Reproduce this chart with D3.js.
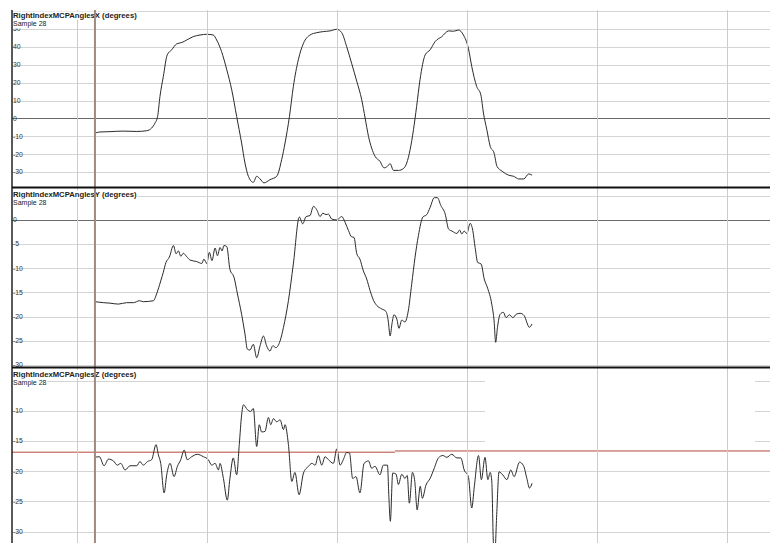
<!DOCTYPE html>
<html><head><meta charset="utf-8">
<script src="https://cdn.jsdelivr.net/npm/d3@7"></script>
<style>body{margin:0;background:#fff}svg{display:block}text{font-family:Arial,"Liberation Sans",sans-serif}</style>
</head><body><svg id="c" width="770" height="543"></svg>
<script>
// ---------- data ----------
const titles = ["RightIndexMCPAnglesX (degrees)", "RightIndexMCPAnglesY (degrees)", "RightIndexMCPAnglesZ (degrees)"];
const sampleLabel = "Sample 28";
const gridX = [60, 50, 40, 30, 20, 10, 0, -10, -20, -30];
const gridY = [5, 0, -5, -10, -15, -20, -25, -30];
const gridZ = [-5, -10, -15, -20, -25, -30];
const labelsX = [50, 40, 30, 20, 10, 0, -10, -20, -30];
const labelsY = [0, -5, -10, -15, -20, -25, -30];
const labelsZ = [-10, -15, -20, -25, -30];
const timeTicks = [0, 50, 100, 150, 200, 250];
const cursorT = 6.9;
const thresholdZ = [[-25, 122.3, -16.85], [122.3, 266.5, -16.65]];

const seriesX = [[6.9,-8.2],[8.8,-7.6],[12.7,-7.4],[17.8,-7.1],[23.0,-7.3],[26.8,-6.9],[28.7,-5.4],[30.0,-2.6],[31.0,1.1],[31.9,12.3],[33.2,23.5],[34.7,35.6],[36.4,38.4],[38.3,41.7],[40.3,42.5],[42.2,43.9],[44.7,45.8],[47.3,46.7],[49.9,47.1],[52.4,46.7],[53.7,43.9],[55.6,37.4],[57.6,27.2],[59.5,16.0],[61.4,1.1],[63.3,-13.8],[64.6,-25],[65.9,-32.4],[67.8,-35.8],[69.1,-32.4],[70.4,-33.9],[71.9,-36.1],[74.2,-34.3],[76.8,-32.4],[78.7,-23.1],[80.0,-13.8],[81.7,1.1],[83.2,17.9],[85.1,32.8],[87.1,42.1],[89.6,46.7],[92.2,48.0],[94.7,48.6],[97.3,49.0],[99.9,49.9],[101.8,48.0],[103.7,40.2],[105.6,30.9],[107.6,20.7],[109.5,10.4],[110.8,0.2],[112.1,-10.1],[113.3,-16.6],[114.6,-21.2],[116.5,-24.0],[118.1,-27.7],[119.4,-26.8],[120.4,-25.3],[121.7,-29.1],[123.6,-29.1],[125.5,-28.1],[126.8,-25],[128.1,-17.5],[129.4,-6.3],[130.6,6.7],[131.9,21.6],[133.9,35.6],[135.8,38.4],[137.7,43.0],[140.3,45.8],[142.9,49.0],[144.8,48.8],[146.7,49.5],[148.6,46.7],[150.5,39.3],[151.8,29.1],[153.7,17.9],[155.3,13.2],[156.3,3.0],[157.6,-6.3],[158.9,-15.6],[160.4,-19.4],[161.5,-26.8],[163.5,-29.6],[166,-31.8],[167.9,-32.4],[169.9,-33.9],[171.8,-33.9],[173.7,-31.1],[175,-31.8]];

const seriesY = [[6.9,-16.9],[10.1,-17.1],[12.7,-17.2],[15.9,-17.4],[19.1,-17.1],[21.7,-17.1],[24.0,-16.7],[25.5,-16.9],[29.4,-16.7],[30.6,-15.3],[32.2,-12.6],[33.2,-10.8],[34.2,-8.8],[35.5,-7.7],[37.1,-5.3],[38.1,-7.0],[39.0,-6.4],[39.9,-7.5],[40.9,-6.9],[42.2,-7.6],[43.5,-8.3],[46.0,-8.6],[48.0,-9.0],[48.8,-8.1],[49.9,-9.0],[50.9,-6.7],[51.9,-8.4],[53.1,-5.8],[54.0,-7.4],[55.0,-5.7],[55.8,-6.4],[56.5,-5.3],[57.6,-5.5],[58.8,-10.2],[60.4,-11.9],[61.7,-15.3],[63.3,-19.5],[64.6,-23.6],[65.5,-26.7],[66.5,-26.9],[67.8,-25.7],[69.1,-28.5],[70.4,-26.0],[71.7,-24.0],[72.9,-26.0],[74.2,-27.1],[75.3,-26.0],[76.5,-26.4],[78.1,-25.0],[79.4,-22.2],[81.3,-16.7],[83.2,-9.1],[85.5,0.6],[86.8,-0.8],[88.1,0.7],[89.6,0.9],[90.9,2.8],[92.2,2.1],[93.5,0.7],[94.5,1.4],[95.8,1.1],[96.7,1.2],[97.9,0.2],[99.9,0],[101.8,0.7],[103.1,-0.5],[104.4,-2.2],[105.6,-3.5],[106.5,-3.6],[107.6,-7.0],[108.8,-8.1],[110.1,-10.5],[111.4,-12.2],[112.7,-14.6],[114.0,-16.6],[115.3,-17.7],[117.2,-18.4],[118.8,-18.9],[119.7,-20.9],[120.4,-24.0],[121.2,-21.2],[121.9,-19.6],[123.0,-20.5],[123.8,-22.4],[124.9,-20.7],[126.1,-21.1],[127.4,-18.8],[128.7,-13.3],[130.0,-7.7],[131.3,-3.2],[133.0,0.6],[134.5,1.1],[135.8,2.6],[137.4,4.6],[138.6,4.6],[139.9,3.0],[141.6,1.2],[142.9,-1.9],[144.2,-2.3],[146.1,-2.8],[147.1,-2.1],[148.0,-2.9],[148.9,-2.3],[149.9,-2.8],[151.2,-0.7],[152.2,-2.2],[153.1,-5.7],[154.1,-8.8],[155.4,-9.1],[156.6,-12.2],[157.9,-14.1],[159.5,-17.4],[160.4,-20.9],[161.0,-25.3],[161.7,-22.2],[162.7,-19.5],[164.0,-19.1],[165.0,-20.2],[166.3,-19.6],[167.6,-20.2],[168.9,-19.5],[170.4,-19.3],[172.0,-19.8],[173.0,-21.2],[173.9,-22.2],[175.0,-21.5]];

const seriesZ = [[6.9,-17.7],[8.6,-17.6],[10.4,-19.1],[12.1,-18.0],[14.0,-18.3],[15.5,-19.0],[16.8,-18.7],[18.5,-19.8],[20.4,-19.1],[23.0,-19.1],[24.2,-18.4],[25.5,-19.0],[27.1,-18.4],[28.7,-18.1],[30.4,-15.6],[31.3,-17.3],[32.2,-18.7],[33.5,-23.6],[34.5,-20.6],[35.8,-18.7],[37.3,-20.9],[38.6,-19.2],[39.9,-18.1],[41.2,-16.5],[42.4,-18.1],[44.1,-17.6],[46.3,-17.2],[48.6,-17.6],[50.5,-18.1],[51.8,-19.0],[53.1,-18.7],[54.4,-19.8],[55.0,-18.7],[56.3,-21.2],[57.8,-24.8],[58.8,-21.2],[60.1,-17.8],[61.4,-20.6],[62.4,-15.6],[63.3,-10.7],[64.0,-9.0],[65.5,-9.8],[66.8,-10.1],[67.8,-9.6],[69.1,-15.9],[70.1,-12.3],[71.0,-13.5],[72.3,-13.4],[73.6,-11.1],[74.5,-12.3],[75.5,-11.3],[76.8,-11.8],[78.1,-11.5],[79.4,-13.1],[80.0,-12.3],[81.3,-15.6],[82.6,-21.7],[83.8,-20.2],[85.4,-23.9],[87.1,-20.3],[89.0,-19.2],[90.3,-18.7],[91.6,-19.0],[92.8,-17.4],[94.1,-19.0],[95.4,-17.6],[96.7,-18.1],[98.6,-18.7],[99.9,-16.3],[101.2,-19.0],[102.4,-18.1],[103.7,-16.9],[104.8,-17.0],[106.0,-21.2],[107.3,-20.9],[108.8,-23.6],[110.4,-18.7],[112.1,-18.3],[113.3,-19.5],[114.6,-19.2],[116.5,-20.6],[117.8,-19.0],[119.4,-19.0],[119.9,-23.9],[120.5,-28.3],[121.4,-20.3],[122.7,-20.5],[123.6,-22.2],[124.9,-20.5],[126.1,-21.2],[127.0,-20.7],[127.8,-25.3],[129.0,-20.2],[129.9,-21.7],[130.8,-26.4],[132.0,-22.5],[132.8,-24.5],[134.2,-22.3],[135.8,-21.2],[137.3,-19.6],[139.0,-17.8],[140.7,-17.4],[142.2,-17.7],[144.1,-17.2],[146.1,-17.8],[147.6,-17.8],[148.9,-19.8],[150.5,-20.9],[151.8,-26.1],[152.8,-22.5],[154.4,-17.4],[155.5,-21.4],[156.9,-17.7],[158.0,-21.4],[158.9,-20.2],[159.5,-21.6],[160.1,-31.7],[160.6,-34.5],[161.4,-27.2],[162.3,-20.1],[163.7,-20.6],[165.3,-21.4],[166.8,-19.8],[168.1,-20.9],[170.2,-18.5],[171.7,-19.1],[173.0,-21.2],[174.0,-22.8],[175.0,-22.0]];

// ---------- layout ----------
const W = 770, H = 543, left = 12;
const svg = d3.select("#c");
const x = d3.scaleLinear().domain([-25, 266.5]).range([left, W]);

const panels = [
  {title: titles[0], grid: gridX, labels: labelsX, data: seriesX, domain: [-38.4, 60.7], top: 10, bottom: 187, zero: true, tb: 18, sb: 26},
  {title: titles[1], grid: gridY, labels: labelsY, data: seriesY, domain: [-30.4, 6.6], top: 188, bottom: 367, zero: true, tb: 197, sb: 204.5},
  {title: titles[2], grid: gridZ, labels: labelsZ, data: seriesZ, domain: [-31.9, -2.9], top: 368, bottom: 543, zero: false, tb: 376.5, sb: 384.5}
];

svg.append("rect").attr("width", W).attr("height", H).attr("fill", "#fff");
const defs = svg.append("defs");

panels.forEach((p, i) => {
  p.y = d3.scaleLinear().domain(p.domain).range([p.bottom, p.top]);
  defs.append("clipPath").attr("id", "clip" + i).append("rect")
    .attr("x", left).attr("y", p.top).attr("width", W - left).attr("height", p.bottom - p.top);
  const g = svg.append("g").attr("clip-path", `url(#clip${i})`);
  p.g = g;
  g.selectAll("line.h").data(p.grid).join("line")
    .attr("x1", left).attr("x2", W)
    .attr("y1", d => Math.round(p.y(d)) + 0.5).attr("y2", d => Math.round(p.y(d)) + 0.5)
    .attr("stroke", "#d4d4d4").attr("stroke-width", 1);
});

// white occluding box in panel 3 (as in the original screenshot)
svg.append("rect").attr("x", 485).attr("y", 373).attr("width", 270).attr("height", 71).attr("fill", "#fff");

// vertical grid
svg.selectAll("line.v").data(timeTicks).join("line")
  .attr("x1", d => Math.round(x(d)) + 0.5).attr("x2", d => Math.round(x(d)) + 0.5)
  .attr("y1", 10).attr("y2", H)
  .attr("stroke", "#cccccc").attr("stroke-width", 1);

panels.forEach((p, i) => {
  const g = p.g.append("g");
  if (p.zero) {
    g.append("line").attr("x1", left).attr("x2", W)
      .attr("y1", Math.round(p.y(0)) + 0.5).attr("y2", Math.round(p.y(0)) + 0.5)
      .attr("stroke", "#6a6a6a").attr("stroke-width", 1.2);
  }
  if (i === 2) {
    g.selectAll("line.t").data(thresholdZ).join("line")
      .attr("x1", d => x(d[0])).attr("x2", d => x(d[1]))
      .attr("y1", d => p.y(d[2])).attr("y2", d => p.y(d[2]))
      .attr("stroke", "#b5473a").attr("stroke-width", 1);
  }
  g.selectAll("text.tick").data(p.labels).join("text")
    .attr("x", 13).attr("y", d => p.y(d)).attr("dy", "0.35em")
    .attr("font-size", "6.8px").attr("fill", "#333")
    .text(d => d);
  g.append("path").datum(p.data)
    .attr("d", d3.line().x(d => x(d[0])).y(d => p.y(d[1])).curve(d3.curveMonotoneX))
    .attr("fill", "none").attr("stroke", "#2a2a2a").attr("stroke-width", 1);
  const t1 = svg.append("text").attr("x", 13).attr("y", p.tb)
    .attr("font-size", "7.7px").attr("font-weight", "bold").attr("fill", "#222").text(p.title);
  const t2 = svg.append("text").attr("x", 13).attr("y", p.sb)
    .attr("font-size", "7px").attr("fill", "#222").text(sampleLabel);
  const w1 = t1.node().getComputedTextLength(), w2 = t2.node().getComputedTextLength();
  svg.insert("rect", () => t1.node()).attr("x", 12.5).attr("y", p.tb - 6.5).attr("width", w1 + 1.5).attr("height", 8).attr("fill", "#fff");
  svg.insert("rect", () => t2.node()).attr("x", 12.5).attr("y", p.sb - 6).attr("width", w2 + 1.5).attr("height", 8.5).attr("fill", "#fff");
});

// cursor
svg.append("line").attr("x1", x(cursorT)).attr("x2", x(cursorT)).attr("y1", 10).attr("y2", H)
  .attr("stroke", "#a08a80").attr("stroke-width", 2);

// separators and left border
svg.append("line").attr("x1", left).attr("x2", left).attr("y1", 10).attr("y2", H)
  .attr("stroke", "#222").attr("stroke-width", 1.5);
[187.5, 367.5].forEach(yy => svg.append("line").attr("x1", left).attr("x2", W)
  .attr("y1", yy).attr("y2", yy).attr("stroke", "#111").attr("stroke-width", 2));
</script></body></html>
